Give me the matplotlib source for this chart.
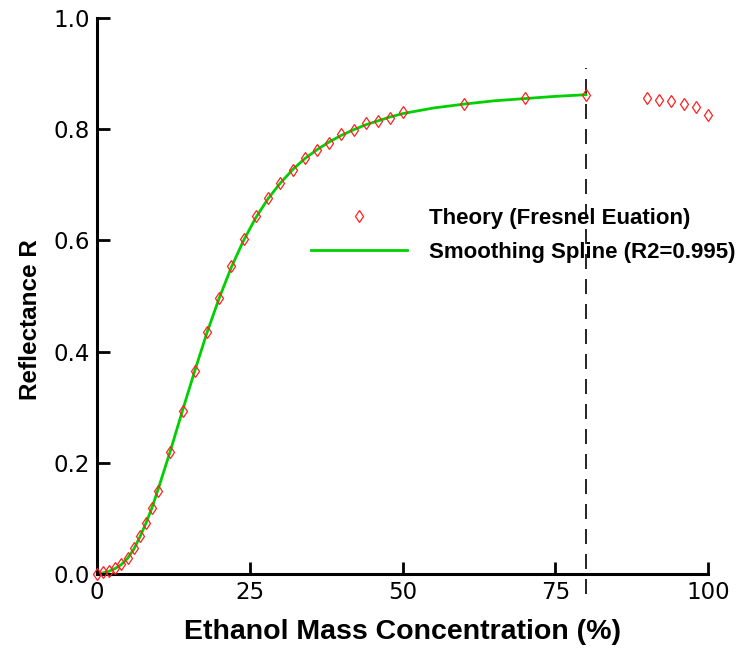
import matplotlib.pyplot as plt

# Fresnel-equation reflectance vs ethanol mass fraction
theory_x = [0, 1, 2, 3, 4, 5, 6, 7, 8, 9, 10, 12, 14, 16, 18, 20, 22, 24, 26, 28,
            30, 32, 34, 36, 38, 40, 42, 44, 46, 48, 50, 60, 70, 80,
            90, 92, 94, 96, 98, 100]
theory_r = [0.000, 0.004, 0.006, 0.010, 0.018, 0.028, 0.046, 0.068, 0.091, 0.118,
            0.150, 0.220, 0.294, 0.365, 0.435, 0.496, 0.554, 0.602, 0.644, 0.676,
            0.703, 0.726, 0.748, 0.762, 0.776, 0.791, 0.799, 0.811, 0.815, 0.821,
            0.830, 0.845, 0.856, 0.862,
            0.856, 0.853, 0.850, 0.845, 0.839, 0.826]

# smoothing spline fitted on 0-80 %
spline_x = [0, 1, 2, 3, 4, 5, 6, 7, 8, 9, 10, 12, 14, 16, 18, 20, 22, 24, 26, 28,
            30, 32, 34, 36, 38, 40, 42, 44, 46, 48, 50, 55, 60, 65, 70, 75, 80]
spline_r = [0.000, 0.002, 0.005, 0.010, 0.017, 0.028, 0.044, 0.066, 0.091, 0.119,
            0.152, 0.221, 0.294, 0.365, 0.434, 0.496, 0.552, 0.600, 0.641, 0.675,
            0.703, 0.727, 0.747, 0.763, 0.777, 0.789, 0.799, 0.808, 0.815, 0.822,
            0.828, 0.838, 0.845, 0.851, 0.855, 0.859, 0.862]

x_ticks = [0, 25, 50, 75, 100]
y_ticks = [0.0, 0.2, 0.4, 0.6, 0.8, 1.0]
cutoff = 80

plt.rcParams['font.family'] = ['Liberation Sans', 'DejaVu Sans']

fig = plt.figure(figsize=(7.43, 6.49), dpi=100)
ax = fig.add_axes([0.1305, 0.1156, 0.8225, 0.8567])

ax.plot(theory_x, theory_r, linestyle='none', marker='d', markersize=6,
        markerfacecolor='none', markeredgecolor='#ff2020', markeredgewidth=0.9,
        label='Theory (Fresnel Euation)', zorder=3, clip_on=False)
ax.plot(spline_x, spline_r, color='#00d000', linewidth=2.0,
        label='Smoothing Spline (R2=0.995)', zorder=2)
ax.plot([cutoff, cutoff], [-0.036, 0.91], color='black', linewidth=1.2,
        linestyle=(0, (9, 6)), clip_on=False, zorder=1)

ax.set_xlim(0, 100)
ax.set_ylim(0, 1.0)
ax.set_xticks(x_ticks)
ax.set_yticks(y_ticks)
ax.set_yticklabels([f'{v:.1f}' for v in y_ticks])
ax.tick_params(direction='in', length=9, width=2, pad=5)
for lbl in ax.get_xticklabels() + ax.get_yticklabels():
    lbl.set_family('DejaVu Sans')
    lbl.set_fontsize(16.5)
for side in ('top', 'right'):
    ax.spines[side].set_visible(False)
for side in ('left', 'bottom'):
    ax.spines[side].set_linewidth(2.2)

ax.set_xlabel('Ethanol Mass Concentration (%)', fontsize=20.5, fontweight='bold',
              labelpad=11)
ax.set_ylabel('Reflectance R', fontsize=17.5, fontweight='bold',
              family=['Liberation Sans Narrow', 'Liberation Sans'])
ax.yaxis.set_label_coords(-0.09, 0.457)

ax.legend(loc='upper left', bbox_to_anchor=(0.318, 0.695), frameon=False,
          prop={'weight': 'bold', 'size': 16}, handlelength=4.3,
          handletextpad=1.0, labelspacing=0.6)

fig.savefig('out.png', dpi=100)
